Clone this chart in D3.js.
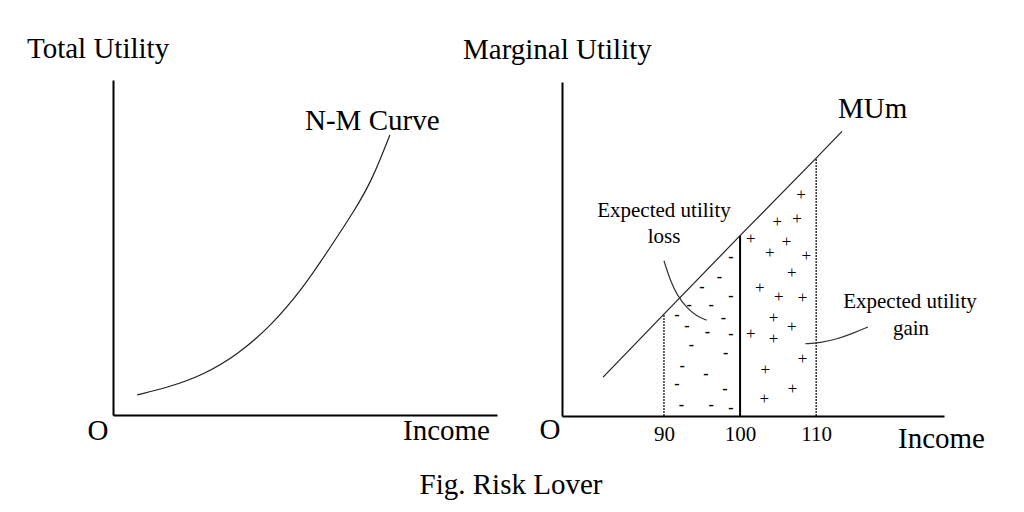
<!DOCTYPE html>
<html>
<head>
<meta charset="utf-8">
<script src="https://cdn.jsdelivr.net/npm/d3@7"></script>
<style>
    body { margin: 0; background: #fff; }
    svg text { font-family: "Liberation Serif", "Times New Roman", serif; fill: #000; }
</style>
</head>
<body>
<div id="chart"></div>
<script>
// left panel: N-M total utility curve (arbitrary units 0-100)
const nmIncome  = [6.3, 14.8, 23.4, 32.3, 40.9, 49.5, 56.5, 63.0, 67.5, 72.1];
const nmUtility = [6.0, 8.4, 11.9, 17.9, 26.3, 37.9, 49.9, 61.2, 70.2, 83.6];

// right panel: MUm line
const muIncome = [82.0, 90, 100, 110, 113.4];
const muValue  = [5.1, 13.4, 23.7, 33.9, 37.4];

// income levels marked on the axis
const incomeTicks = [90, 100, 110];
const tickLabels  = ["90", "100", "110"];

// "-" marks (expected utility loss)
const lossIncome = [98.8, 97.3, 95.0, 98.8, 93.3, 96.2, 91.7, 97.8, 93.0, 95.7, 98.8, 93.6, 98.1, 92.4, 95.5, 91.7, 98.0, 92.3, 96.2, 98.8];
const lossValue  = [20.9, 18.3, 16.9, 15.8, 14.5, 14.6, 13.3, 12.9, 11.8, 11.0, 10.8, 9.3, 8.2, 6.5, 5.5, 4.2, 3.5, 1.45, 1.45, 0.96];

// "+" marks (expected utility gain)
const gainIncome = [108.0, 104.9, 107.5, 101.4, 106.1, 103.9, 108.7, 106.8, 102.6, 105.1, 108.2, 104.4, 106.8, 101.4, 104.4, 108.2, 103.3, 106.9, 103.2];
const gainValue  = [29.1, 25.5, 25.9, 23.3, 22.9, 21.5, 21.1, 18.9, 16.9, 15.7, 15.6, 12.9, 11.7, 10.9, 10.2, 7.5, 6.1, 3.6, 2.3];

// leader curves of the two notes
const lossLeaderIncome = [90.0, 90.8, 91.7, 93.0, 94.3, 95.6];
const lossLeaderValue  = [20.4, 17.9, 15.9, 14.2, 13.1, 12.6];
const gainLeaderIncome = [116.8, 114.9, 112.7, 110.5, 108.6];
const gainLeaderValue  = [11.7, 10.9, 10.1, 9.6, 9.5];

const svg = d3.select("#chart")
    .append("svg")
    .attr("width", 1024)
    .attr("height", 512);

const bigFont = "29px";
const smallFont = "21px";

function drawAxes(x, y) {
    svg.append("g")
        .attr("transform", `translate(0,${y.range()[0]})`)
        .call(d3.axisBottom(x).tickValues([]).tickSizeOuter(0))
        .select(".domain").attr("stroke", "#000").attr("stroke-width", 2);
    svg.append("g")
        .attr("transform", `translate(${x.range()[0]},0)`)
        .call(d3.axisLeft(y).tickValues([]).tickSizeOuter(0))
        .select(".domain").attr("stroke", "#000").attr("stroke-width", 2);
}

// ---------------- left panel ----------------
const xL = d3.scaleLinear().domain([0, 100]).range([113, 497]);
const yL = d3.scaleLinear().domain([0, 100]).range([415, 80]);
drawAxes(xL, yL);

const nmData = nmIncome.map((d, i) => ({ inc: d, u: nmUtility[i] }));
svg.append("path")
    .datum(nmData)
    .attr("fill", "none")
    .attr("stroke", "#222")
    .attr("stroke-width", 1.2)
    .attr("d", d3.line().x(d => xL(d.inc)).y(d => yL(d.u)).curve(d3.curveBasis));

svg.append("text").attr("x", 27).attr("y", 58).attr("font-size", bigFont).text("Total Utility");
svg.append("text").attr("x", 305).attr("y", 130).attr("font-size", bigFont).text("N-M Curve");
svg.append("text").attr("x", 98).attr("y", 440).attr("text-anchor", "middle").attr("font-size", bigFont).text("O");
svg.append("text").attr("x", 403).attr("y", 440).attr("font-size", bigFont).text("Income");

// ---------------- right panel ----------------
const xR = d3.scaleLinear().domain([76.6, 126.8]).range([562, 944]);
const yR = d3.scaleLinear().domain([0, 43.9]).range([416, 82]);
drawAxes(xR, yR);

// tick labels 90 / 100 / 110
svg.append("g")
    .attr("transform", `translate(0,${yR(0)})`)
    .call(d3.axisBottom(xR).tickValues(incomeTicks).tickSize(0).tickPadding(10)
        .tickFormat((d, i) => tickLabels[i]))
    .call(g => g.select(".domain").remove())
    .selectAll("text")
    .attr("font-size", smallFont)
    .attr("font-family", "Liberation Serif");

// verticals from axis up to MUm
svg.selectAll(".income-line")
    .data(incomeTicks)
    .enter().append("line")
    .attr("class", "income-line")
    .attr("x1", d => xR(d))
    .attr("x2", d => xR(d))
    .attr("y1", yR(0))
    .attr("y2", d => yR(muValue[muIncome.indexOf(d)]))
    .attr("stroke", "#000")
    .attr("stroke-width", d => d === 100 ? 2 : 1.2)
    .attr("stroke-dasharray", d => d === 100 ? null : "2,1");

const muData = muIncome.map((d, i) => ({ inc: d, mu: muValue[i] }));
svg.append("path")
    .datum(muData)
    .attr("fill", "none")
    .attr("stroke", "#222")
    .attr("stroke-width", 1.2)
    .attr("d", d3.line().x(d => xR(d.inc)).y(d => yR(d.mu)));

// minus and plus marks
svg.selectAll(".loss-mark")
    .data(lossIncome.map((d, i) => ({ inc: d, mu: lossValue[i] })))
    .enter().append("text")
    .attr("class", "loss-mark")
    .attr("x", d => xR(d.inc))
    .attr("y", d => yR(d.mu))
    .attr("dy", "0.3em")
    .attr("text-anchor", "middle")
    .attr("font-size", "16px")
    .attr("font-weight", "bold")
    .text("-");

svg.selectAll(".gain-mark")
    .data(gainIncome.map((d, i) => ({ inc: d, mu: gainValue[i] })))
    .enter().append("text")
    .attr("class", "gain-mark")
    .attr("x", d => xR(d.inc))
    .attr("y", d => yR(d.mu))
    .attr("dy", "0.32em")
    .attr("text-anchor", "middle")
    .attr("font-size", "17px")
    .text("+");

// leader curves
const leader = d3.line().x(d => xR(d.inc)).y(d => yR(d.mu)).curve(d3.curveBasis);
[[lossLeaderIncome, lossLeaderValue], [gainLeaderIncome, gainLeaderValue]].forEach(([inc, val]) => {
    svg.append("path")
        .datum(inc.map((d, i) => ({ inc: d, mu: val[i] })))
        .attr("fill", "none")
        .attr("stroke", "#333")
        .attr("stroke-width", 1.2)
        .attr("d", leader);
});

// labels
svg.append("text").attr("x", 463).attr("y", 59).attr("font-size", bigFont).text("Marginal Utility");
svg.append("text").attr("x", 838).attr("y", 118).attr("font-size", bigFont).text("MUm");
svg.append("text").attr("x", 550).attr("y", 439).attr("text-anchor", "middle").attr("font-size", bigFont).text("O");
svg.append("text").attr("x", 898).attr("y", 448).attr("font-size", bigFont).text("Income");

svg.append("text").attr("x", 664).attr("y", 217).attr("text-anchor", "middle").attr("font-size", smallFont).text("Expected utility");
svg.append("text").attr("x", 664).attr("y", 243).attr("text-anchor", "middle").attr("font-size", smallFont).text("loss");
svg.append("text").attr("x", 910).attr("y", 308).attr("text-anchor", "middle").attr("font-size", smallFont).text("Expected utility");
svg.append("text").attr("x", 911).attr("y", 335).attr("text-anchor", "middle").attr("font-size", smallFont).text("gain");

// caption
svg.append("text").attr("x", 511).attr("y", 494).attr("text-anchor", "middle").attr("font-size", bigFont).text("Fig. Risk Lover");
</script>
</body>
</html>
